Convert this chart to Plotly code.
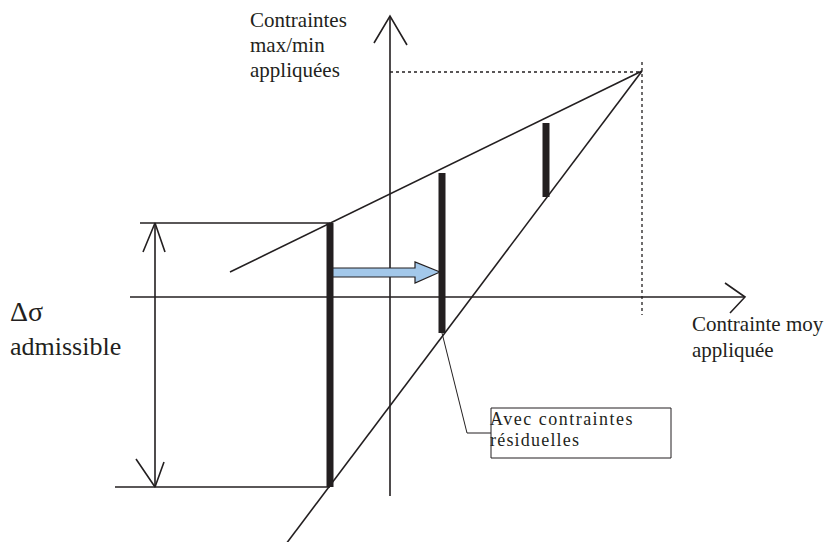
import plotly.graph_objects as go

# --- diagram geometry (drawing units = pixels of the original figure) ---
origin_x, origin_y = 390, 297
y_axis_ends = [16, 496]
x_axis_ends = [130, 745]
upper_line_x = [230, 642]
upper_line_y = [272, 71]
lower_line_x = [642, 286]
lower_line_y = [71, 544]
dotted_h_x = [390, 642]
dotted_h_y = [72, 72]
dotted_v_x = [642, 642]
dotted_v_y = [62, 315]

bars_x = [330, 442, 546]
bars_top = [223, 173, 123]
bars_bottom = [487, 333, 197]

bracket_top_x = [140, 330]
bracket_top_y = 223
bracket_bot_x = [115, 330]
bracket_bot_y = 487
bracket_x = 155

blue_arrow_x = [331, 415, 415, 440, 415, 415, 331, 331]
blue_arrow_y = [268, 268, 262, 272, 283, 277, 277, 268]

leader_x = [442, 467, 491]
leader_y = [333, 433, 433]
box_x = [491, 671]
box_y = [408, 458]

ink = "#231f20"
fig = go.Figure()

def line(xs, ys, w=1.6, dash="solid", color=ink):
    fig.add_trace(go.Scatter(x=xs, y=ys, mode="lines", hoverinfo="skip",
                             line=dict(color=color, width=w, dash=dash)))

# axes
line([origin_x, origin_x], y_axis_ends)
line([374, origin_x, 407], [43, y_axis_ends[0], 45])
line(x_axis_ends, [origin_y, origin_y])
line([725, x_axis_ends[1], 730], [283, origin_y, 313])

# envelope lines
line(upper_line_x, upper_line_y)
line(lower_line_x, lower_line_y)
line(dotted_h_x, dotted_h_y, w=1.3, dash="dot")
line(dotted_v_x, dotted_v_y, w=1.3, dash="dot")

# bracket with double arrow
line(bracket_top_x, [bracket_top_y, bracket_top_y])
line(bracket_bot_x, [bracket_bot_y, bracket_bot_y])
line([bracket_x, bracket_x], [bracket_top_y, bracket_bot_y])
line([143, bracket_x, 165], [252, bracket_top_y, 252])
line([136, bracket_x, 164], [459, bracket_bot_y, 462])

# blue arrow
fig.add_trace(go.Scatter(x=blue_arrow_x, y=blue_arrow_y, mode="lines", fill="toself",
                         fillcolor="#a3c8ea", line=dict(color=ink, width=1.2),
                         hoverinfo="skip"))

# thick bars
for bx, bt, bb in zip(bars_x, bars_top, bars_bottom):
    line([bx, bx], [bt, bb], w=7)

# callout
line(leader_x, leader_y, w=1)
fig.add_shape(type="rect", x0=box_x[0], x1=box_x[1], y0=box_y[0], y1=box_y[1],
              line=dict(color=ink, width=1), fillcolor="rgba(0,0,0,0)")

serif = "Liberation Serif, Times New Roman, Times, serif"
def text(x, y, s, size, anchor="left"):
    fig.add_annotation(x=x, y=y, text=s, showarrow=False, xanchor=anchor,
                       yanchor="middle", font=dict(family=serif, size=size, color=ink))

text(248, 20, "Contraintes", 21)
text(248, 45, "max/min", 21)
text(248, 70, "appliquées", 21)
text(8, 311, "Δσ", 28)
text(8, 346, "admissible", 26)
text(690, 324, "Contrainte moy", 21)
text(690, 350, "appliquée", 21)
text(488, 419, '<span style="letter-spacing:1.5px">Avec contraintes</span>', 18)
text(488, 440, '<span style="letter-spacing:1.2px">résiduelles</span>', 18)

fig.update_layout(width=826, height=542, margin=dict(l=0, r=0, t=0, b=0),
                  paper_bgcolor="white", plot_bgcolor="white", showlegend=False,
                  xaxis=dict(range=[0, 826], visible=False, fixedrange=True),
                  yaxis=dict(range=[542, 0], visible=False, fixedrange=True))
fig.write_html("out.html", config={"displayModeBar": False, "staticPlot": True})

with open("out.html", encoding="utf-8") as f:
    html = f.read()
html = html.replace("<body>", '<body style="margin:0;padding:0;">', 1)
with open("out.html", "w", encoding="utf-8") as f:
    f.write(html)
